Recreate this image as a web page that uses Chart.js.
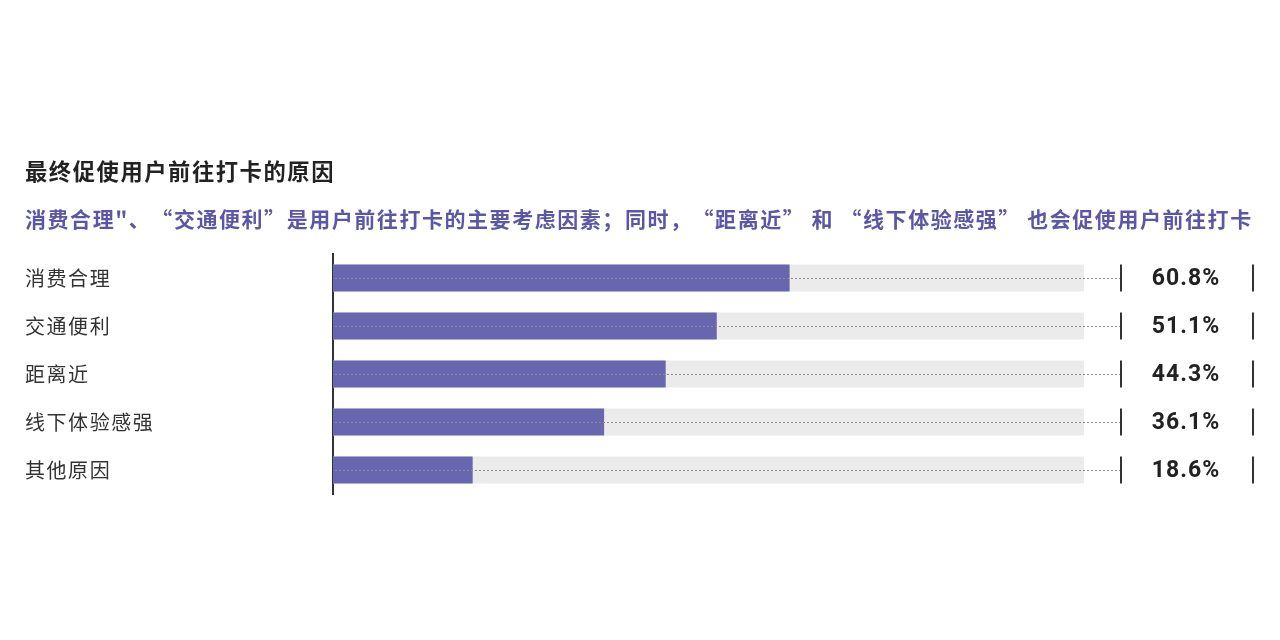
<!DOCTYPE html>
<html>
<head>
<meta charset="utf-8">
<script src="https://cdn.jsdelivr.net/npm/chart.js@4.4.1/dist/chart.umd.min.js"></script>
<style>
  html, body { margin: 0; padding: 0; background: #ffffff; }
  #wrap { width: 1280px; height: 640px; }
</style>
</head>
<body>
<div id="wrap"><canvas id="c" width="1280" height="640"></canvas></div>
<script>
const categories = ['消费合理', '交通便利', '距离近', '线下体验感强', '其他原因'];
const shareValues = [60.8, 51.1, 44.3, 36.1, 18.6];
const trackValues = [100, 100, 100, 100, 100];
const valueLabels = ['60.8%', '51.1%', '44.3%', '36.1%', '18.6%'];
const titleText = '最终促使用户前往打卡的原因';
const subtitleText = '消费合理"、“交通便利”是用户前往打卡的主要考虑因素；同时，“距离近” 和 “线下体验感强” 也会促使用户前往打卡';

const CJK = '"Noto Sans CJK SC", "Noto Sans", sans-serif';

const spacingPlugin = {
  id: 'spacing',
  beforeDraw(chart) { chart.ctx.letterSpacing = '1.55px'; }
};

const sidePlugin = {
  id: 'side',
  afterDatasetsDraw(chart) {
    const ctx = chart.ctx;
    const meta = chart.getDatasetMeta(0);
    const xs = chart.scales.x;
    const area = chart.chartArea;
    const x0 = xs.getPixelForValue(0);
    const tick1 = area.right + 37;
    const tick2 = area.right + 169;
    const labelX = area.right + 102;
    meta.data.forEach((bar, i) => {
      const y = bar.y;
      const h = bar.height;
      ctx.save();
      ctx.strokeStyle = '#8a8a8a';
      ctx.lineWidth = 1;
      ctx.setLineDash([2, 2]);
      ctx.beginPath();
      ctx.moveTo(x0 + 2, Math.round(y) + 0.5);
      ctx.lineTo(tick1, Math.round(y) + 0.5);
      ctx.stroke();
      ctx.setLineDash([]);
      ctx.strokeStyle = '#333333';
      ctx.lineWidth = 2;
      ctx.beginPath();
      ctx.moveTo(tick1, y - h / 2);
      ctx.lineTo(tick1, y + h / 2);
      ctx.moveTo(tick2, y - h / 2);
      ctx.lineTo(tick2, y + h / 2);
      ctx.stroke();
      ctx.letterSpacing = '1px';
      ctx.fillStyle = '#222222';
      ctx.font = 'bold 23px Roboto, "Noto Sans", sans-serif';
      ctx.textAlign = 'center';
      ctx.textBaseline = 'middle';
      ctx.fillText(valueLabels[i], labelX, y + 1);
      ctx.restore();
    });
  }
};

new Chart(document.getElementById('c'), {
  type: 'bar',
  data: {
    labels: categories,
    datasets: [
      {
        label: '占比',
        data: shareValues,
        backgroundColor: '#6866ae',
        grouped: false,
        barPercentage: 0.5625,
        categoryPercentage: 1
      },
      {
        label: 'track',
        data: trackValues,
        backgroundColor: '#ebebeb',
        grouped: false,
        barPercentage: 0.5625,
        categoryPercentage: 1
      }
    ]
  },
  options: {
    indexAxis: 'y',
    responsive: false,
    animation: false,
    devicePixelRatio: 1,
    layout: { padding: { left: 25, right: 10, top: 158, bottom: 146 } },
    scales: {
      x: { display: false, min: 0, max: 100 },
      y: {
        afterFit(scale) { scale.width = 308; },
        grid: { display: true, drawOnChartArea: false, drawTicks: false },
        border: { display: true, color: '#333333', width: 2 },
        ticks: {
          crossAlign: 'far',
          padding: 0,
          color: '#333333',
          font: { family: CJK, size: 20, weight: 'normal' }
        }
      },
      side: {
        type: 'category',
        position: 'right',
        afterFit(scale) { scale.width = 186; },
        grid: { display: false },
        border: { display: false },
        ticks: { display: false }
      }
    },
    plugins: {
      legend: { display: false },
      tooltip: { enabled: false },
      title: {
        display: true,
        text: titleText,
        align: 'start',
        color: '#222222',
        font: { family: CJK, size: 22.3, weight: 'bold', lineHeight: 1.2 },
        padding: { top: 0, bottom: 22 }
      },
      subtitle: {
        display: true,
        text: subtitleText,
        align: 'start',
        color: '#5b57a6',
        font: { family: CJK, size: 21, weight: 'bold', lineHeight: 1.2 },
        padding: { top: 0, bottom: 22 }
      }
    }
  },
  plugins: [spacingPlugin, sidePlugin]
});
</script>
</body>
</html>
